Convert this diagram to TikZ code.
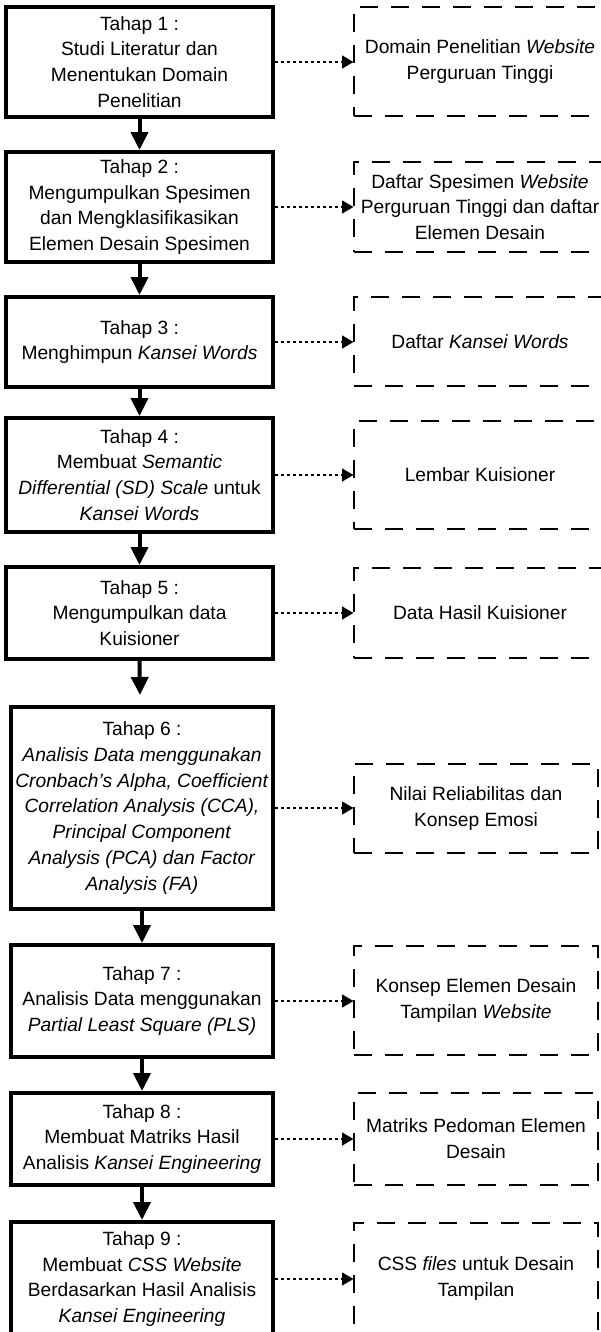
\documentclass[tikz,border=0pt]{standalone}
\usepackage{fontspec}
\setmainfont{Liberation Sans}
\usetikzlibrary{arrows.meta}
\tikzset{
  stepbox/.style={draw, line width=3pt, rectangle, inner sep=0pt, align=center,
    font=\fontsize{14.4pt}{19.4pt}\selectfont},
  outbox/.style={draw, line width=0.8pt, dash pattern=on 13.5pt off 9.75pt, rectangle,
    inner sep=0pt, align=center, font=\fontsize{14.4pt}{19.4pt}\selectfont},
  flowarrow/.style={line width=3pt, -{Triangle[length=13.5pt,width=12.75pt]}},
  outarrow/.style={line width=1.5pt, dash pattern=on 2.25pt off 2.25pt,
    -{Triangle[length=8.5pt,width=9.5pt]}},
}
\begin{document}
\begin{tikzpicture}[x=0.75pt,y=-0.75pt]
\useasboundingbox (0,0) rectangle (600,1332);
% left step boxes
\node[stepbox, minimum width=200.25pt, minimum height=82.5pt] (s1) at (139.5,62)
  {Tahap 1 :\\Studi Literatur dan\\Menentukan Domain\\Penelitian};
\node[stepbox, minimum width=200.25pt, minimum height=82.5pt] (s2) at (139.5,207)
  {Tahap 2 :\\Mengumpulkan Spesimen\\dan Mengklasifikasikan\\Elemen Desain Spesimen};
\node[stepbox, minimum width=200.25pt, minimum height=67.5pt] (s3) at (139.5,342)
  {Tahap 3 :\\Menghimpun \textit{Kansei Words}};
\node[stepbox, minimum width=200.25pt, minimum height=85.5pt] (s4) at (139.5,475)
  {Tahap 4 :\\Membuat \textit{Semantic}\\\textit{Differential (SD) Scale} untuk\\\textit{Kansei Words}};
\node[stepbox, minimum width=200.25pt, minimum height=69pt] (s5) at (139.5,613)
  {Tahap 5 :\\Mengumpulkan data\\Kuisioner};
\node[stepbox, minimum width=196.5pt, minimum height=151.5pt] (s6) at (142,808)
  {Tahap 6 :\\\textit{Analisis Data menggunakan}\\\textit{Cronbach’s Alpha, Coefficient}\\\textit{Correlation Analysis (CCA),}\\\textit{Principal Component}\\\textit{Analysis (PCA) dan Factor}\\\textit{Analysis (FA)}};
\node[stepbox, minimum width=196.5pt, minimum height=84pt] (s7) at (142,1001)
  {Tahap 7 :\\Analisis Data menggunakan\\\textit{Partial Least Square (PLS)}};
\node[stepbox, minimum width=196.5pt, minimum height=69pt] (s8) at (142,1139)
  {Tahap 8 :\\Membuat Matriks Hasil\\Analisis \textit{Kansei Engineering}};
\node[stepbox, minimum width=196.5pt, minimum height=85.5pt] (s9) at (142,1279)
  {Tahap 9 :\\Membuat \textit{CSS Website}\\Berdasarkan Hasil Analisis\\\textit{Kansei Engineering}};
% right output boxes
\node[outbox, minimum width=189pt, minimum height=81.75pt] (o1) at (480,61.5)
  {Domain Penelitian \textit{Website}\\Perguruan Tinggi};
\node[outbox, minimum width=189pt, minimum height=67.5pt] (o2) at (480,207)
  {Daftar Spesimen \textit{Website}\\Perguruan Tinggi dan daftar\\Elemen Desain};
\node[outbox, minimum width=189pt, minimum height=66.75pt] (o3) at (480,341.5)
  {Daftar \textit{Kansei Words}};
\node[outbox, minimum width=189pt, minimum height=81pt] (o4) at (480,475)
  {Lembar Kuisioner};
\node[outbox, minimum width=189pt, minimum height=67.5pt] (o5) at (480,613)
  {Data Hasil Kuisioner};
\node[outbox, minimum width=183pt, minimum height=66.75pt] (o6) at (476,808.5)
  {Nilai Reliabilitas dan\\Konsep Emosi};
\node[outbox, minimum width=183pt, minimum height=81.75pt] (o7) at (476,1000.5)
  {Konsep Elemen Desain\\Tampilan \textit{Website}};
\node[outbox, minimum width=183pt, minimum height=69pt] (o8) at (476,1139)
  {Matriks Pedoman Elemen\\Desain};
\node[outbox, minimum width=183pt, minimum height=83.25pt] (o9) at (476,1278.5)
  {CSS \textit{files} untuk Desain\\Tampilan};
% flow arrows
\coordinate (a56) at (140,695);
\draw[flowarrow] (s1.south) -- (s2.north);
\draw[flowarrow] (s2.south) -- (s3.north);
\draw[flowarrow] (s3.south) -- (s4.north);
\draw[flowarrow] (s4.south) -- (s5.north);
\draw[flowarrow] (s5.south) -- (a56);
\draw[flowarrow] (s6.south) -- (s7.north);
\draw[flowarrow] (s7.south) -- (s8.north);
\draw[flowarrow] (s8.south) -- (s9.north);
% output arrows
\foreach \i in {1,...,9}{
  \draw[outarrow] (s\i.east) -- (s\i.east -| o\i.west);
}
\end{tikzpicture}
\end{document}
